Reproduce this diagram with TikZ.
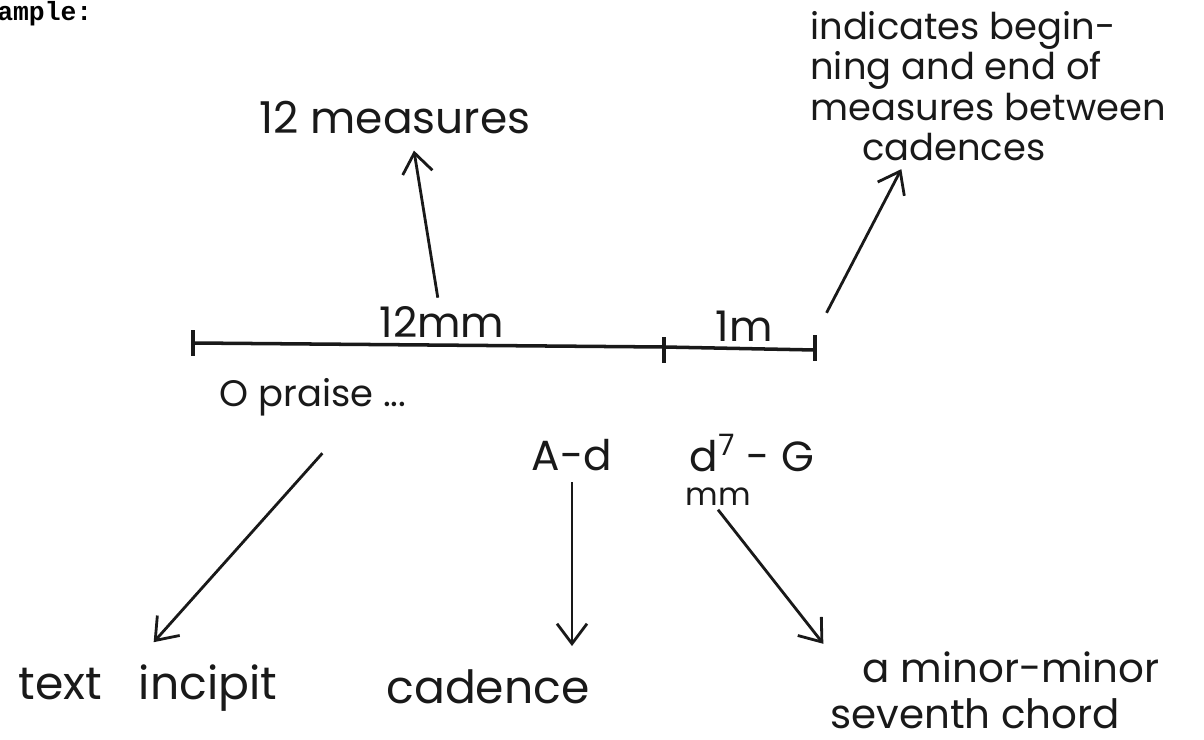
\documentclass[tikz,border=0pt]{standalone}
\usepackage{fontspec}
\setmainfont{Poppins}
\setmonofont{Liberation Mono}
\usepackage{tikz}
\usetikzlibrary{arrows.meta, positioning}
\definecolor{inkcolor}{RGB}{25, 25, 25}
\tikzstyle{hand} = [inner sep=2pt, text=inkcolor, font=\fontsize{24}{24}\selectfont]
\tikzstyle{smallhand} = [hand, font=\fontsize{18}{18}\selectfont]
\tikzstyle{notehand} = [hand, align=left, font=\fontsize{21}{23}\selectfont]
\tikzstyle{bar} = [line width=2pt, color=inkcolor]
\tikzstyle{arrow} = [line width=1.6pt, color=inkcolor, -{Straight Barb[length=4mm, width=6mm]}]

\begin{document}
\begin{tikzpicture}[x=0.02cm, y=-0.02cm]
\useasboundingbox (0,0) rectangle (1204,740);

% Heading
\node (heading) [anchor=base west, inner sep=0pt, font=\ttfamily\bfseries\fontsize{15}{15}\selectfont] at (-3,21) {ample:};

% Time line
\coordinate (lstart) at (193,343);
\coordinate (lmid) at (664,347);
\coordinate (lend) at (815,350);
\draw [bar] (lstart) -- (lmid) -- (lend);
\draw [bar] (lstart) ++(0,-13) -- ++(0,26);
\draw [bar] (lmid) ++(0,-10) -- ++(0,26);
\draw [bar] (lend) ++(0,-15) -- ++(0,26);
\coordinate (rtick) at (815,335);

% Nodes
\node (twelvemm) [hand] at (442,322) {12mm};
\node (onem) [hand] at (744,326) {1m};
\node (praise) [hand, font=\fontsize{21}{21}\selectfont] at (313,397) {O praise ...};
\node (ad) [hand] at (572,455) {A-d};
\node (dseven) [hand] at (752,453) {d\textsuperscript{7} - G};
\node (dmm) [smallhand] at (718,497) {mm};

\node (measures) [hand, font=\fontsize{25}{25}\selectfont] at (395,118) {12 measures};
\node (indicates) [notehand] at (988,86) {indicates begin-\\ning and end of\\measures between\\\hspace*{1.4em}cadences};

\node (incipit) [hand, font=\fontsize{26}{26}\selectfont] at (148,688) {text\hspace{0.8em}incipit};
\node (cadence) [hand, font=\fontsize{26}{26}\selectfont] at (488,687) {cadence};
\node (chord) [notehand, font=\fontsize{23}{26}\selectfont] at (995,690) {\hspace*{0.8em}a minor-minor\\seventh chord};

% Arrows
\draw [arrow, shorten <=1mm, shorten >=2.5mm] (twelvemm.100) -- (measures.-50);
\draw [arrow, shorten <=5mm, shorten >=1mm] (rtick) -- (indicates.223);
\draw [arrow, shorten <=9mm, shorten >=5mm] (praise.-30) -- (incipit.112);
\draw [arrow, shorten <=1.5mm, shorten >=4mm] (ad.south) -- (ad.south |- cadence.north);
\draw [arrow, shorten >=1mm] (dmm.south) -- (chord.north west);

\end{tikzpicture}
\end{document}
